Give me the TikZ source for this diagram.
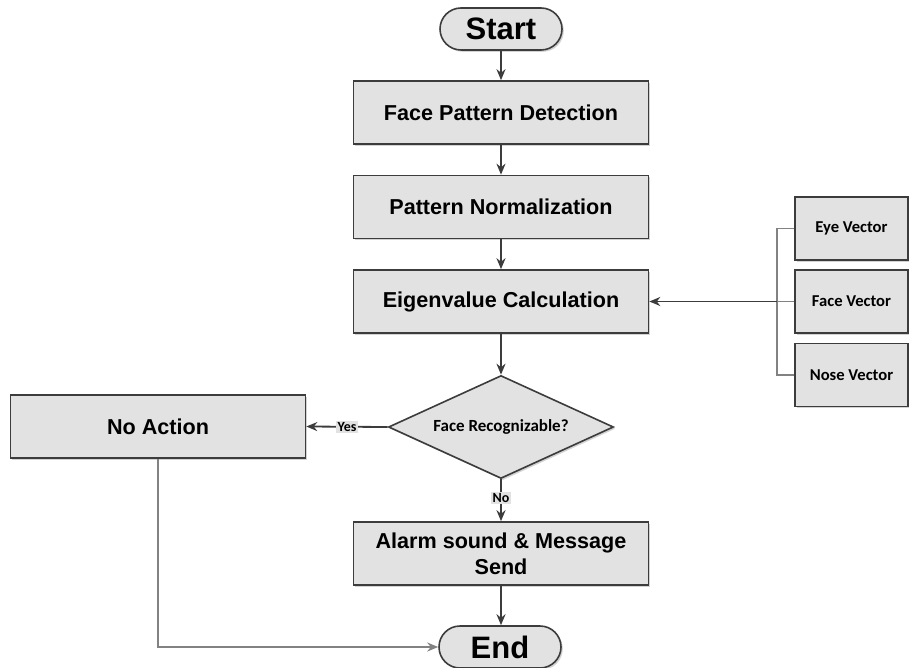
\documentclass[tikz,border=0pt]{standalone}
\usepackage{fontspec}
\newfontfamily\arialfont{Liberation Sans}
\newfontfamily\calfont{Carlito}
\usepackage{tikz}
\usetikzlibrary{arrows.meta,shapes.geometric,shadows}
\usepackage{xcolor}
\definecolor{boxfill}{RGB}{226,226,226}
\definecolor{boxline}{RGB}{60,60,60}
\definecolor{linkcol}{RGB}{60,60,60}
\definecolor{buscol}{RGB}{130,130,130}
\tikzset{
  % common box look
  boxbase/.style={draw=boxline, fill=boxfill, line width=0.8pt, align=center, inner sep=2pt,
                  drop shadow={opacity=0.35, shadow xshift=0.9pt, shadow yshift=-0.9pt}},
  % terminal (start / end)
  term/.style={boxbase, rectangle, rounded corners=10.5pt, minimum width=61pt, minimum height=21pt,
               font=\arialfont\bfseries\fontsize{15.5}{17}\selectfont},
  % process box
  procbox/.style={boxbase, rectangle, minimum width=147.5pt, minimum height=31.5pt,
                  font=\arialfont\bfseries\fontsize{10.8}{12.8}\selectfont},
  % feature vector box
  vecbox/.style={boxbase, rectangle, minimum width=56.5pt, minimum height=31.5pt,
                 font=\calfont\bfseries\fontsize{8.3}{9.5}\selectfont},
  % decision
  decbox/.style={boxbase, diamond, shape aspect=2.2, inner sep=0pt, minimum width=112.5pt,
                 minimum height=51.5pt, font=\calfont\bfseries\fontsize{8.5}{10}\selectfont},
  % flow arrow
  flow/.style={-{Stealth[length=5.5pt,width=4.5pt]}, draw=linkcol, line width=0.9pt},
  % plain grey line
  bus/.style={draw=buscol, line width=0.9pt},
  % yes / no tag
  tag/.style={fill=boxfill, inner sep=0.6pt, font=\calfont\bfseries\fontsize{7}{7.5}\selectfont},
}

\begin{document}
\begin{tikzpicture}[x=0.5pt, y=-0.5pt]
  \useasboundingbox (0,0) rectangle (909,668);

  % ── main column ──
  \node[term] (start) at (501,29) {Start};
  \node[procbox] (detect) at (501,112.5) {Face Pattern Detection};
  \node[procbox] (norm) at (501,207) {Pattern Normalization};
  \node[procbox] (eigen) at (501,301.5) {Eigenvalue Calculation};
  \node[decbox] (recog) at (501,427) {Face Recognizable?};
  \node[procbox] (alarm) at (501,553.5) {Alarm sound \& Message\\Send};
  \node[term] (end) at (500,647) {End};

  % ── side boxes ──
  \node[procbox] (noact) at (158,426.5) {No Action};
  \node[vecbox] (eye) at (851.5,228.5) {Eye Vector};
  \node[vecbox] (facev) at (851.5,301.5) {Face Vector};
  \node[vecbox] (nose) at (851.5,375) {Nose Vector};
  \coordinate (vbus) at (777,301.5);

  % ── connectors ──
  \draw[flow] (start) -- (detect);
  \draw[flow] (detect) -- (norm);
  \draw[flow] (norm) -- (eigen);
  \draw[flow] (eigen) -- (recog);
  \draw[flow] (recog.west) -- node[tag]{Yes} (noact.east);
  \draw[flow] (recog.south) -- node[tag, pos=0.45]{No} (alarm.north);
  \draw[flow] (alarm.south) -- (alarm.south |- end.north);
  \draw[flow, draw=buscol] (noact.south) |- (end.west);

  % vector bus
  \draw[bus] (eye.west) -- (eye.west -| vbus) -- (nose.west -| vbus) -- (nose.west);
  \draw[bus] (facev.west) -- (vbus);
  \draw[flow] (vbus) -- (eigen.east);

\end{tikzpicture}
\end{document}
